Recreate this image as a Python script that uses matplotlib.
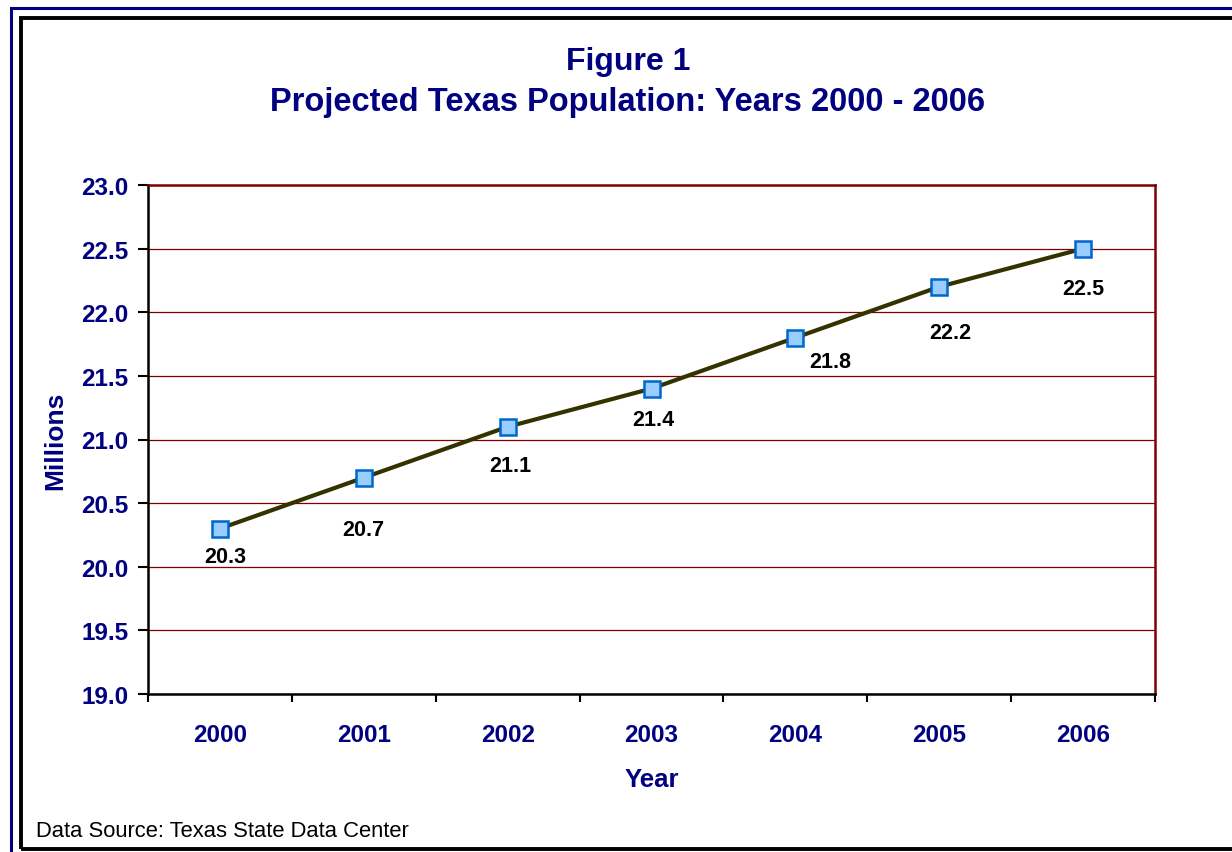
import matplotlib.pyplot as plt
from matplotlib.patches import Rectangle

years = ['2000', '2001', '2002', '2003', '2004', '2005', '2006']
population = [20.3, 20.7, 21.1, 21.4, 21.8, 22.2, 22.5]
yticks = [19.0, 19.5, 20.0, 20.5, 21.0, 21.5, 22.0, 22.5, 23.0]
# label offsets in points (dx, dy) from each marker
label_offsets = [(4, -20), (0, -37), (2, -28), (1, -22), (25, -17), (8, -33), (0, -29)]

navy = '#000080'
maroon = '#800000'

plt.rcParams['font.family'] = ['Liberation Sans', 'DejaVu Sans']

W, H = 1232, 853
fig = plt.figure(figsize=(W / 100, H / 100), dpi=100)

# frame borders (in pixels -> figure fraction)
def px_rect(x0, y0, x1, y1, color, lw):
    r = Rectangle((x0 / W, 1 - y1 / H), (x1 - x0) / W, (y1 - y0) / H,
                  transform=fig.transFigure, fill=False, edgecolor=color,
                  linewidth=lw, zorder=0)
    fig.patches.append(r)

px_rect(11, 8.5, 1245, 870, navy, 2.2)
px_rect(20.5, 18.5, 1240, 849.5, 'black', 2.8)

ax = fig.add_axes([148 / W, 1 - 695 / H, (1155 - 148) / W, (695 - 186) / H])

x = list(range(len(years)))
ax.plot(x, population, color='#333300', linewidth=3, zorder=3,
        marker='s', markersize=11, markerfacecolor='#99ccff',
        markeredgecolor='#0066cc', markeredgewidth=1.8)

for xi, v, (dx, dy) in zip(x, population, label_offsets):
    ax.annotate(f'{v:.1f}', (xi, v), xytext=(dx, dy), textcoords='offset points',
                ha='center', va='center', fontsize=15.5, fontweight='bold',
                color='black')

ax.set_xlim(-0.5, len(years) - 0.5)
ax.set_ylim(19, 23)
ax.set_yticks(yticks)
ax.set_yticklabels([f'{t:.1f}' for t in yticks], fontsize=17.5,
                   fontweight='bold', color=navy)
ax.set_xticks([i - 0.5 for i in range(len(years) + 1)])
ax.set_xticklabels([])
ax.set_xticks(x, minor=True)
ax.set_xticklabels(years, minor=True, fontsize=17.5, fontweight='bold', color=navy)
ax.tick_params(axis='x', which='minor', length=0, pad=21)
ax.tick_params(axis='x', which='major', direction='out', length=6, width=1.5)
ax.tick_params(axis='y', direction='out', length=7, width=1.5, pad=7)

ax.grid(axis='y', color=maroon, linewidth=0.9)
ax.set_axisbelow(True)
for s in ['left', 'bottom']:
    ax.spines[s].set_color('black')
    ax.spines[s].set_linewidth(1.8)
for s in ['top', 'right']:
    ax.spines[s].set_color(maroon)
    ax.spines[s].set_linewidth(1.8)

ax.set_ylabel('Millions', fontsize=19, fontweight='bold', color=navy, labelpad=10)
ax.set_xlabel('Year', fontsize=18.5, fontweight='bold', color=navy, labelpad=15)

fig.text(628 / W, 1 - 62 / H, 'Figure 1', ha='center', va='center',
         fontsize=23, fontweight='bold', color=navy)
fig.text(628 / W, 1 - 103 / H, 'Projected Texas Population: Years 2000 - 2006',
         ha='center', va='center', fontsize=23.5, fontweight='bold', color=navy)
fig.text(36 / W, 1 - 832 / H, 'Data Source: Texas State Data Center',
         ha='left', va='center', fontsize=15.8, color='black')

fig.savefig('out.png', dpi=100)
